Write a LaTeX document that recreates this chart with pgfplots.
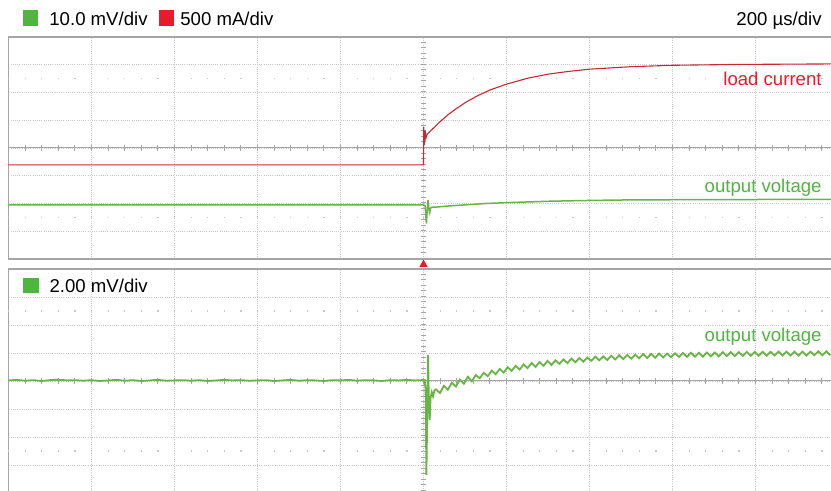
\documentclass[border=0pt]{standalone}
\usepackage{fontspec}
\setmainfont{Liberation Sans}
\usepackage{pgfplots}
\pgfplotsset{compat=1.18}
\definecolor{gridc}{RGB}{200,200,200}
\definecolor{framec}{RGB}{165,165,165}
\definecolor{trgreen}{RGB}{105,180,70}
\definecolor{trred}{RGB}{200,40,50}
\definecolor{lblgreen}{RGB}{80,180,65}
\definecolor{lblred}{RGB}{232,28,40}
\begin{document}
\begin{tikzpicture}[x=1pt,y=1pt]
\pgfplotsset{
 scopestyle/.style={scale only axis, width=411.25pt, height=111pt, xmin=-1000, xmax=981.9,
   axis line style={draw=none}, xtick={-800,-600,...,800}, ytick={-3,-2,...,3},
   xticklabels={}, yticklabels={}, tick style={draw=none},
   grid=major, grid style={gridc, dash pattern=on 0.5pt off 0.6pt, line width=0.45pt}, clip=false}
}
% ---------- top panel ----------
\begin{axis}[scopestyle, at={(211.75pt,171.5pt)}, anchor=origin, ymin=-4, ymax=4]
\draw[framec, line width=0.6pt] (rel axis cs:1,1) -- (rel axis cs:0,1) -- (rel axis cs:0,0) -- (rel axis cs:1,0);
\draw[framec, line width=0.5pt] (axis cs:-1000,0) -- (axis cs:981.9,0);
\draw[framec, line width=2.6pt, dash pattern=on 0.5pt off 7.8pt] (axis cs:-1001.2,0) -- (axis cs:981.9,0);
\draw[framec, line width=2.6pt, dash pattern=on 0.5pt off 2.275pt] (axis cs:0,-4) -- (axis cs:0,4);
\draw[gridc, line width=0.7pt, dash pattern=on 0.6pt off 7.7pt] (axis cs:-1001.2,2.5) -- (axis cs:981.9,2.5);
\draw[gridc, line width=0.7pt, dash pattern=on 0.6pt off 7.7pt] (axis cs:-1001.2,-2.5) -- (axis cs:981.9,-2.5);
\addplot[trred, line width=0.55pt] coordinates {
(-1000,-0.61) (0,-0.61) (0.5,0.75) (2,0.1) (4,0.62) (6,0.36) (9,0.5)
(20,0.66) (40,0.95) (60,1.21) (80,1.43) (100,1.63) (130,1.88) (160,2.09)
(200,2.30) (250,2.51) (300,2.66) (350,2.76) (400,2.84) (500,2.93) (600,2.98)
(750,3.01) (981.9,3.03)};
\addplot[trgreen, line width=0.75pt] coordinates {
(-1000,-2.05) (0,-2.05) (4,-2.09) (7,-2.72) (9,-2.25) (11,-1.87) (13,-2.2) (15,-2.33)
(17,-2.17) (20,-2.13) (30,-2.13) (60,-2.09) (100,-2.05) (150,-2.0) (200,-1.97)
(300,-1.92) (400,-1.89) (500,-1.87) (700,-1.86) (981.9,-1.85)};
\addplot[only marks, mark=triangle*, mark size=2pt, color=lblred] coordinates {(0,-4.2)};
\end{axis}
% ---------- bottom panel ----------
\begin{axis}[scopestyle, at={(211.75pt,55pt)}, anchor=origin, ymin=-3.93, ymax=4]
\draw[framec, line width=0.6pt] (rel axis cs:1,1) -- (rel axis cs:0,1) -- (rel axis cs:0,0);
\draw[framec, line width=0.5pt] (axis cs:-1000,0) -- (axis cs:981.9,0);
\draw[framec, line width=2.6pt, dash pattern=on 0.5pt off 7.8pt] (axis cs:-1001.2,0) -- (axis cs:981.9,0);
\draw[framec, line width=2.6pt, dash pattern=on 0.5pt off 2.275pt] (axis cs:0,-3.93) -- (axis cs:0,4);
\draw[gridc, line width=0.7pt, dash pattern=on 0.6pt off 7.7pt] (axis cs:-1001.2,2.5) -- (axis cs:981.9,2.5);
\draw[gridc, line width=0.7pt, dash pattern=on 0.6pt off 7.7pt] (axis cs:-1001.2,-2.5) -- (axis cs:981.9,-2.5);
\addplot[trgreen, line width=0.9pt] coordinates {
(-1000,0.02) (-980,0.04) (-960,0.01) (-940,0.03) (-920,0.0) (-900,0.03) (-880,0.05) (-860,0.02)
(-840,0.03) (-820,0.01) (-800,0.03) (-780,0.0) (-760,0.02) (-740,0.04) (-720,0.01) (-700,0.03)
(-680,0.0) (-660,0.02) (-640,0.04) (-620,0.01) (-600,0.02) (-580,0.03) (-560,0.01) (-540,0.03)
(-520,0.0) (-500,0.02) (-480,0.04) (-460,0.02) (-440,0.03) (-420,0.01) (-400,0.02) (-380,0.03)
(-360,0.0) (-340,0.02) (-320,0.04) (-300,0.01) (-280,0.03) (-260,0.02) (-240,0.0) (-220,0.03)
(-200,0.02) (-180,0.04) (-160,0.01) (-140,0.03) (-120,0.02) (-100,0.0) (-80,0.03) (-60,0.02)
(-40,0.04) (-20,0.02) (0,0.03)
(3,0.0) (5,-0.3) (7,-3.36) (9,-1.2) (11,0.93) (13,-0.8) (15,-1.4) (17,-0.6) (20,-0.4) (23,-0.55) (26,-0.35)
(30.0,-0.30) (39.6,-0.43) (49.2,-0.17) (58.8,-0.31) (68.4,-0.06) (78.0,-0.20) (87.6,0.05) (97.2,-0.10)
(106.8,0.15) (116.4,-0.01) (126.0,0.21) (135.6,0.10) (145.2,0.29) (154.8,0.17) (164.4,0.37) (174.0,0.24)
(183.6,0.43) (193.2,0.30) (202.8,0.49) (212.4,0.36) (222.0,0.54) (231.6,0.41) (241.2,0.59) (250.8,0.46)
(260.4,0.64) (270.0,0.50) (279.6,0.68) (289.2,0.54) (298.8,0.72) (308.4,0.57) (318.0,0.74) (327.6,0.61)
(337.2,0.77) (346.8,0.64) (356.4,0.80) (366.0,0.67) (375.6,0.82) (385.2,0.69) (394.8,0.84) (404.4,0.72)
(414.0,0.87) (423.6,0.74) (433.2,0.88) (442.8,0.75) (452.4,0.90) (462.0,0.77) (471.6,0.92) (481.2,0.78)
(490.8,0.93) (500.4,0.80) (510.0,0.94) (519.6,0.81) (529.2,0.96) (538.8,0.82) (548.4,0.97) (558.0,0.83)
(567.6,0.98) (577.2,0.84) (586.8,0.98) (596.4,0.85) (606.0,0.99) (615.6,0.86) (625.2,1.00) (634.8,0.86)
(644.4,1.01) (654.0,0.87) (663.6,1.01) (673.2,0.87) (682.8,1.02) (692.4,0.88) (702.0,1.02) (711.6,0.88)
(721.2,1.03) (730.8,0.89) (740.4,1.03) (750.0,0.89) (759.6,1.03) (769.2,0.90) (778.8,1.04) (788.4,0.90)
(798.0,1.04) (807.6,0.90) (817.2,1.04) (826.8,0.90) (836.4,1.04) (846.0,0.91) (855.6,1.05) (865.2,0.91)
(874.8,1.05) (884.4,0.91) (894.0,1.05) (903.6,0.91) (913.2,1.05) (922.8,0.91) (932.4,1.05) (942.0,0.92)
(951.6,1.06) (961.2,0.92) (970.8,1.06) (980.4,0.92)};
\end{axis}
% ---------- labels ----------
\fontsize{9.3}{11}\selectfont
\fill[lblgreen] (11.35,232.65) rectangle (19.15,240.5);
\node[anchor=base west, inner sep=0pt] at (24.5,232.5) {10.0 mV/div};
\fill[lblred] (79.5,232.65) rectangle (87.0,240.5);
\node[anchor=base west, inner sep=0pt] at (90,232.5) {500 mA/div};
\node[anchor=base east, inner sep=0pt] at (411,232.5) {200 µs/div};
\node[anchor=base east, inner sep=0pt, text=lblred] at (411,202.5) {load current};
\node[anchor=base east, inner sep=0pt, text=lblgreen] at (411,149) {output voltage};
\fill[lblgreen] (11.35,99.15) rectangle (19.5,106.65);
\node[anchor=base west, inner sep=0pt] at (24.6,99.35) {2.00 mV/div};
\node[anchor=base east, inner sep=0pt, text=lblgreen] at (411,74.5) {output voltage};
\pgfresetboundingbox
\path[use as bounding box] (0,0) rectangle (415.5,245.5);
\end{tikzpicture}
\end{document}
